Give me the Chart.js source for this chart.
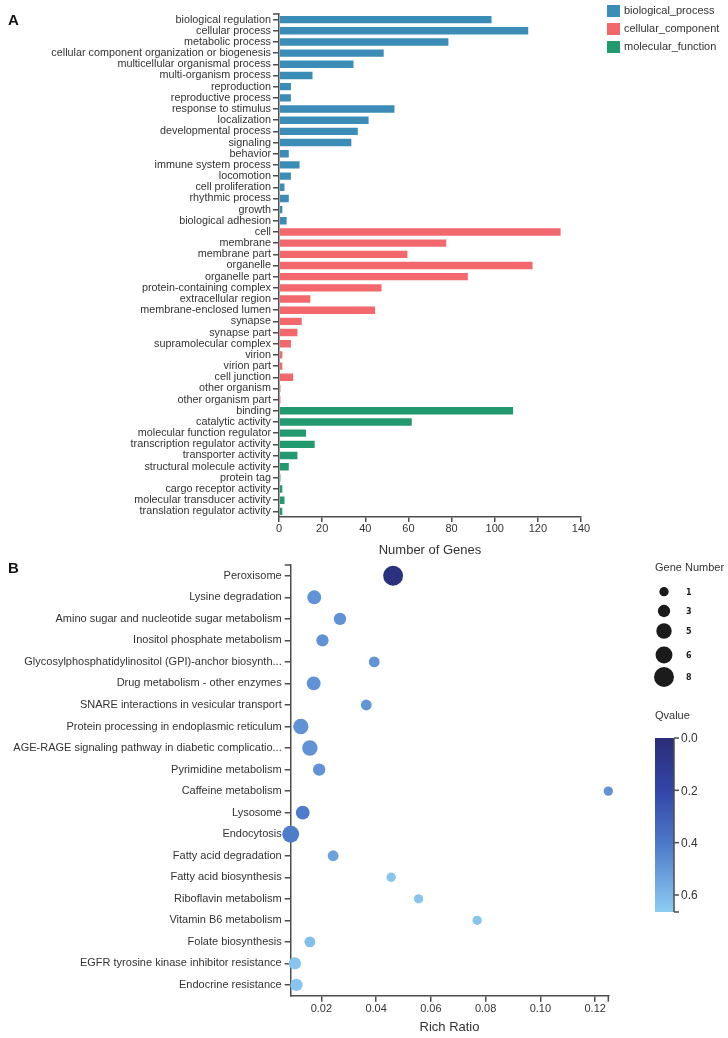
<!DOCTYPE html>
<html lang="en">
<head>
<meta charset="UTF-8">
<title>GO classification and KEGG enrichment</title>
<script src="https://cdn.jsdelivr.net/npm/chart.js"></script>
<style>
    body { margin: 0; background: #fff; font-family: 'Liberation Sans', Arial, sans-serif; }
    #page { position: relative; width: 728px; height: 1038px; overflow: hidden; }
    canvas { position: absolute; left: 0; }
    #chartA { top: 0; }
    #chartB { top: 555px; }
    .panel { position: absolute; left: 8px; font: bold 15px/15px 'Liberation Sans', Arial, sans-serif; color: #111; }
</style>
</head>
<body>
<div id="page">
    <canvas id="chartA" width="728" height="565"></canvas>
    <canvas id="chartB" width="728" height="483"></canvas>
    <div class="panel" style="top:12px">A</div>
    <div class="panel" style="top:560px">B</div>
</div>
<script>
// ---- panel A: GO classification ----
const bpLabels = ['biological regulation', 'cellular process', 'metabolic process',
    'cellular component organization or biogenesis', 'multicellular organismal process',
    'multi-organism process', 'reproduction', 'reproductive process', 'response to stimulus',
    'localization', 'developmental process', 'signaling', 'behavior', 'immune system process',
    'locomotion', 'cell proliferation', 'rhythmic process', 'growth', 'biological adhesion'];
const bpCounts = [99, 116, 79, 49, 35, 16, 6, 6, 54, 42, 37, 34, 5, 10, 6, 3, 5, 2, 4];

const ccLabels = ['cell', 'membrane', 'membrane part', 'organelle', 'organelle part',
    'protein-containing complex', 'extracellular region', 'membrane-enclosed lumen', 'synapse',
    'synapse part', 'supramolecular complex', 'virion', 'virion part', 'cell junction',
    'other organism', 'other organism part'];
const ccCounts = [131, 78, 60, 118, 88, 48, 15, 45, 11, 9, 6, 2, 2, 7, 1, 1];

const mfLabels = ['binding', 'catalytic activity', 'molecular function regulator',
    'transcription regulator activity', 'transporter activity', 'structural molecule activity',
    'protein tag', 'cargo receptor activity', 'molecular transducer activity',
    'translation regulator activity'];
const mfCounts = [109, 62, 13, 17, 9, 5, 1, 2, 3, 2];

const groupNames = ['biological_process', 'cellular_component', 'molecular_function'];
const groupColors = ['#3b8db7', '#f2686c', '#22996f'];
const countTicks = [0, 20, 40, 60, 80, 100, 120, 140];

// ---- panel B: KEGG enrichment ----
const pathways = ['Peroxisome', 'Lysine degradation', 'Amino sugar and nucleotide sugar metabolism',
    'Inositol phosphate metabolism', 'Glycosylphosphatidylinositol (GPI)-anchor biosynth...',
    'Drug metabolism - other enzymes', 'SNARE interactions in vesicular transport',
    'Protein processing in endoplasmic reticulum', 'AGE-RAGE signaling pathway in diabetic complicatio...',
    'Pyrimidine metabolism', 'Caffeine metabolism', 'Lysosome', 'Endocytosis',
    'Fatty acid degradation', 'Fatty acid biosynthesis', 'Riboflavin metabolism',
    'Vitamin B6 metabolism', 'Folate biosynthesis', 'EGFR tyrosine kinase inhibitor resistance',
    'Endocrine resistance'];
const richRatio = [0.0462, 0.0174, 0.0268, 0.0204, 0.0393, 0.0172, 0.0364, 0.0125, 0.0158, 0.0192,
    0.1248, 0.0132, 0.0088, 0.0243, 0.0455, 0.0555, 0.0769, 0.0158, 0.0103, 0.0109];
const geneNumber = [8, 4, 3, 3, 2, 4, 2, 5, 5, 3, 1, 4, 6, 2, 1, 1, 1, 2, 3, 3];
const qValue = [0.03, 0.48, 0.48, 0.48, 0.49, 0.48, 0.49, 0.48, 0.48, 0.48, 0.48, 0.41, 0.41,
    0.53, 0.64, 0.64, 0.64, 0.62, 0.64, 0.64];
const geneLegend = [1, 3, 5, 6, 8];
const qTicks = [0, 0.2, 0.4, 0.6];
const qMax = 0.665;

const textColor = '#333';
const axisColor = '#4d4d4d';

function radiusFor(n) { return 3.9 + 0.76 * n; }

const qStops = [[0, [42, 45, 120]], [0.2, [50, 70, 168]], [0.4, [76, 120, 200]], [0.665, [141, 205, 243]]];
function colorFor(q) {
    for (let i = 1; i < qStops.length; i++) {
        if (q <= qStops[i][0] || i === qStops.length - 1) {
            const [q0, c0] = qStops[i - 1], [q1, c1] = qStops[i];
            const t = Math.max(0, Math.min(1, (q - q0) / (q1 - q0)));
            const c = c0.map((v, k) => Math.round(v + (c1[k] - v) * t));
            return `rgb(${c[0]},${c[1]},${c[2]})`;
        }
    }
}

// short outer tick at ends of axes, d3 style
function outerTick(ctx, x1, y1, x2, y2) {
    ctx.save();
    ctx.strokeStyle = axisColor;
    ctx.lineWidth = 1.5;
    ctx.beginPath();
    ctx.moveTo(x1, y1);
    ctx.lineTo(x2, y2);
    ctx.stroke();
    ctx.restore();
}

// ---- chart A ----
const labelsA = bpLabels.concat(ccLabels, mfLabels);
const groups = [bpCounts, ccCounts, mfCounts];
const datasetsA = groups.map((vals, g) => {
    const before = groups.slice(0, g).reduce((s, a) => s + a.length, 0);
    const after = labelsA.length - before - vals.length;
    return {
        label: groupNames[g],
        data: Array(before).fill(null).concat(vals, Array(after).fill(null)),
        backgroundColor: groupColors[g],
        borderColor: 'rgba(255,255,255,0.5)',
        borderWidth: 1
    };
});

const legendA = {
    id: 'legendA',
    afterDraw(chart) {
        const ctx = chart.ctx;
        ctx.save();
        groupNames.forEach((name, i) => {
            ctx.fillStyle = groupColors[i];
            ctx.fillRect(607, 5 + i * 18, 13, 12);
            ctx.fillStyle = textColor;
            ctx.font = "11px 'Liberation Sans', Arial, sans-serif";
            ctx.textBaseline = 'middle';
            ctx.fillText(name, 624, 11 + i * 18);
        });
        ctx.restore();
        const a = chart.chartArea;
        outerTick(ctx, a.left - 6, a.top, a.left, a.top);
    }
};

new Chart(document.getElementById('chartA'), {
    type: 'bar',
    data: { labels: labelsA, datasets: datasetsA },
    plugins: [legendA],
    options: {
        indexAxis: 'y',
        responsive: false,
        animation: false,
        layout: { padding: { left: 0, top: 14, right: 147, bottom: 0 } },
        datasets: { bar: { skipNull: true, barPercentage: 0.84, categoryPercentage: 1 } },
        plugins: { legend: { display: false }, tooltip: { enabled: false } },
        scales: {
            x: {
                min: countTicks[0],
                max: countTicks[countTicks.length - 1],
                afterBuildTicks: s => { s.ticks = countTicks.map(v => ({ value: v })); },
                ticks: { color: textColor, font: { size: 11 }, padding: 0 },
                grid: { drawOnChartArea: false, tickLength: 5, color: axisColor, lineWidth: 1.5 },
                border: { color: axisColor, width: 1.5 },
                title: { display: true, text: 'Number of Genes', color: textColor, font: { size: 13 }, padding: { top: 0, bottom: 7 } },
                afterFit: s => { s.height = 48; }
            },
            y: {
                ticks: { color: textColor, font: { size: 10.8 }, padding: 2, autoSkip: false },
                grid: { drawOnChartArea: false, tickLength: 6, color: axisColor, lineWidth: 1.5, offset: false },
                border: { color: axisColor, width: 1.5 },
                afterFit: s => { s.width = 279; }
            }
        }
    }
});

// ---- chart B ----
const legendB = {
    id: 'legendB',
    afterDraw(chart) {
        const ctx = chart.ctx;
        const a = chart.chartArea;
        outerTick(ctx, a.left - 6, a.top, a.left, a.top);
        outerTick(ctx, a.right, a.bottom, a.right, a.bottom + 6);

        ctx.save();
        ctx.fillStyle = textColor;
        ctx.font = "11px 'Liberation Sans', Arial, sans-serif";
        ctx.textBaseline = 'middle';
        ctx.fillText('Gene Number', 655, 13);
        const ys = [36.7, 56, 76, 100, 122];
        geneLegend.forEach((n, i) => {
            ctx.fillStyle = '#1b1b1b';
            ctx.beginPath();
            ctx.arc(664, ys[i], radiusFor(n), 0, Math.PI * 2);
            ctx.fill();
            ctx.font = "bold 8px 'DejaVu Sans', sans-serif";
            ctx.fillText(String(n), 686, ys[i] + 1);
        });

        ctx.fillStyle = textColor;
        ctx.font = "11px 'Liberation Sans', Arial, sans-serif";
        ctx.fillText('Qvalue', 655, 161);

        const top = 183, bottom = 357, x0 = 655, x1 = 674;
        const grad = ctx.createLinearGradient(0, top, 0, bottom);
        qStops.forEach(([q, c]) => grad.addColorStop(q / qMax, `rgb(${c[0]},${c[1]},${c[2]})`));
        ctx.fillStyle = grad;
        ctx.fillRect(x0, top, x1 - x0, bottom - top);

        ctx.strokeStyle = axisColor;
        ctx.lineWidth = 1.5;
        ctx.beginPath();
        ctx.moveTo(x1, top);
        ctx.lineTo(x1, bottom);
        ctx.moveTo(x1, bottom);
        ctx.lineTo(x1 + 5, bottom);
        ctx.stroke();
        ctx.font = "12px 'Liberation Sans', Arial, sans-serif";
        ctx.fillStyle = textColor;
        qTicks.forEach(q => {
            const y = top + q / qMax * (bottom - top);
            ctx.beginPath();
            ctx.moveTo(x1, y);
            ctx.lineTo(x1 + 5, y);
            ctx.stroke();
            ctx.fillText(q.toFixed(1), x1 + 7, y + 1);
        });
        ctx.restore();
    }
};

new Chart(document.getElementById('chartB'), {
    type: 'bubble',
    data: {
        datasets: [{
            label: 'KEGG',
            data: pathways.map((p, i) => ({ x: richRatio[i], y: p, r: radiusFor(geneNumber[i]) })),
            backgroundColor: qValue.map(colorFor),
            borderWidth: 0,
            clip: false
        }]
    },
    plugins: [legendB],
    options: {
        responsive: false,
        animation: false,
        layout: { padding: { left: 0, top: 9, right: 119.7, bottom: 0 } },
        plugins: { legend: { display: false }, tooltip: { enabled: false } },
        scales: {
            x: {
                type: 'linear',
                z: 1,
                min: Math.min(...richRatio),
                max: Math.max(...richRatio),
                ticks: { stepSize: 0.02, includeBounds: false, color: textColor, font: { size: 11 }, padding: 1,
                    callback: v => v.toFixed(2) },
                grid: { drawOnChartArea: false, tickLength: 6, color: axisColor, lineWidth: 1.5 },
                border: { color: axisColor, width: 1.5 },
                title: { display: true, text: 'Rich Ratio', color: textColor, font: { size: 13 }, padding: { top: 0, bottom: 2.5 } },
                afterFit: s => { s.height = 42.3; }
            },
            y: {
                type: 'category',
                z: 1,
                labels: pathways,
                offset: true,
                ticks: { color: textColor, font: { size: 11 }, padding: 3, autoSkip: false },
                grid: { drawOnChartArea: false, tickLength: 6, color: axisColor, lineWidth: 1.5, offset: false },
                border: { color: axisColor, width: 1.5 },
                afterFit: s => { s.width = 290.7; }
            }
        }
    }
});
</script>
</body>
</html>
